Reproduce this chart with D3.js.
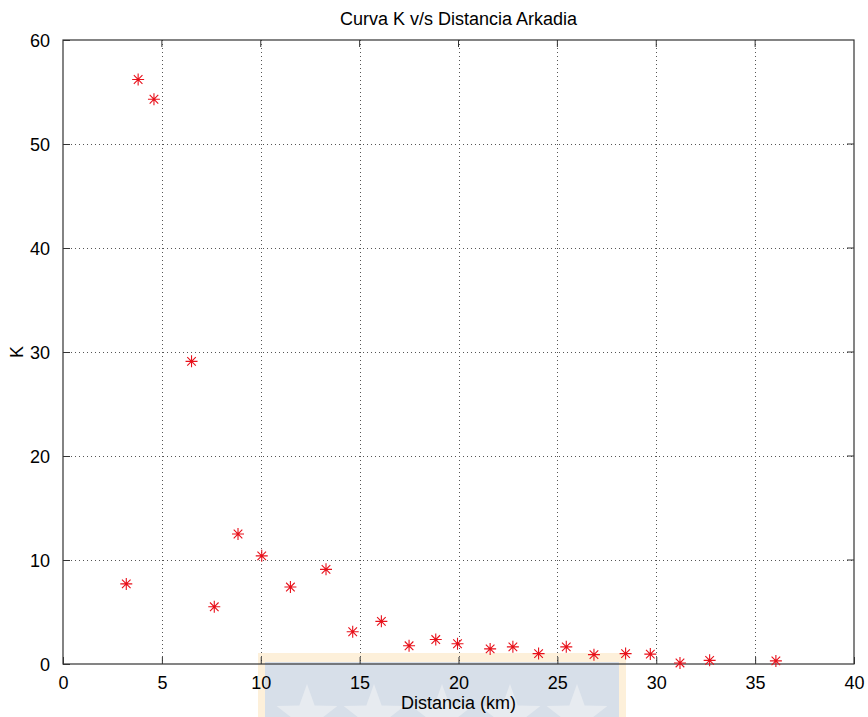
<!DOCTYPE html>
<html>
<head>
<meta charset="utf-8">
<script src="https://cdn.jsdelivr.net/npm/d3@7"></script>
<style>
  body { margin: 0; background: #fff; }
  svg { display: block; font-family: "Liberation Sans", Arial, sans-serif; }
</style>
</head>
<body>
<svg id="chart" width="868" height="717"></svg>
<script>
// Distance (km) and K values
const distancia = [3.2, 3.8, 4.6, 6.5, 7.65, 8.85, 10.05, 11.5, 13.3, 14.65, 16.1, 17.5, 18.85, 19.95,
                   21.6, 22.75, 24.05, 25.45, 26.85, 28.45, 29.7, 31.2, 32.7, 36.05];
const kValues  = [7.7, 56.2, 54.3, 29.1, 5.5, 12.5, 10.4, 7.4, 9.1, 3.1, 4.1, 1.75, 2.35, 1.95,
                   1.45, 1.65, 1.0, 1.65, 0.9, 1.0, 0.95, 0.1, 0.35, 0.3];
const xTicks = [0, 5, 10, 15, 20, 25, 30, 35, 40];
const yTicks = [0, 10, 20, 30, 40, 50, 60];

const svg = d3.select("#chart");
const margin = { left: 63, right: 14, top: 40, bottom: 53 };
const W = 868, H = 717;
const x = d3.scaleLinear().domain([0, 40]).range([margin.left, W - margin.right]);
const y = d3.scaleLinear().domain([0, 60]).range([H - margin.bottom, margin.top]);

// faint institutional seal along the bottom edge
const seal = svg.append("g");
seal.append("rect").attr("x", 258).attr("y", 653).attr("width", 368).attr("height", 70)
  .attr("fill", "#fdf0da");
seal.append("rect").attr("x", 265).attr("y", 662).attr("width", 354).attr("height", 60)
  .attr("fill", "#d7dfe9");
const starPath = d3.lineRadial().curve(d3.curveLinearClosed)
  .angle(d => d[0]).radius(d => d[1]);
const starPts = d3.range(10).map(i => [i * Math.PI / 5, i % 2 ? 13 : 32]);
[307, 374, 442, 510, 577].forEach(cx => {
  seal.append("path").attr("d", starPath(starPts))
    .attr("transform", `translate(${cx},${716})`)
    .attr("fill", "#e7ebf0");
});

// grid
const grid = svg.append("g").attr("stroke", "#555").attr("stroke-width", 1)
  .attr("stroke-dasharray", "1,3");
grid.selectAll(".gx").data(xTicks.slice(1, -1)).join("line")
  .attr("x1", d => Math.round(x(d)) + 0.5).attr("x2", d => Math.round(x(d)) + 0.5)
  .attr("y1", y(60)).attr("y2", y(0));
grid.selectAll(".gy").data(yTicks.slice(1, -1)).join("line")
  .attr("y1", d => Math.round(y(d)) + 0.5).attr("y2", d => Math.round(y(d)) + 0.5)
  .attr("x1", x(0)).attr("x2", x(40));

// axes with inward ticks
const xAxis = d3.axisBottom(x).tickValues(xTicks).tickSizeInner(-7).tickSizeOuter(0).tickPadding(12);
const yAxis = d3.axisLeft(y).tickValues(yTicks).tickSizeInner(-7).tickSizeOuter(0).tickPadding(13);
const gx = svg.append("g").attr("transform", `translate(0,${y(0)})`).call(xAxis);
const gy = svg.append("g").attr("transform", `translate(${x(0)},0)`).call(yAxis);
[gx, gy].forEach(g => {
  g.select(".domain").remove();
  g.selectAll("line").attr("stroke", "#333");
  g.selectAll("text").attr("font-size", 18).attr("fill", "#000")
    .attr("font-family", "'Liberation Sans', Arial, sans-serif");
});
gy.selectAll("text").attr("dy", "0.35em");

// ticks on top and right edges
svg.append("g").selectAll("line").data(xTicks.slice(1, -1)).join("line")
  .attr("x1", d => x(d)).attr("x2", d => x(d)).attr("y1", y(60)).attr("y2", y(60) + 7)
  .attr("stroke", "#333");
svg.append("g").selectAll("line").data(yTicks.slice(1, -1)).join("line")
  .attr("y1", d => y(d)).attr("y2", d => y(d)).attr("x1", x(40)).attr("x2", x(40) - 7)
  .attr("stroke", "#333");

// box
svg.append("rect").attr("x", x(0)).attr("y", y(60))
  .attr("width", x(40) - x(0)).attr("height", y(0) - y(60))
  .attr("fill", "none").attr("stroke", "#333").attr("stroke-width", 1.2);

// asterisk markers
const r = 6, rd = 4.3;
const marks = svg.append("g").attr("stroke", "#e8101a").attr("stroke-width", 1.1);
distancia.forEach((d, i) => {
  const cx = x(d), cy = y(kValues[i]);
  const p = `M${cx - r},${cy}H${cx + r}M${cx},${cy - r}V${cy + r}` +
            `M${cx - rd},${cy - rd}L${cx + rd},${cy + rd}M${cx - rd},${cy + rd}L${cx + rd},${cy - rd}`;
  marks.append("path").attr("d", p);
});

// labels
svg.append("text").attr("x", (x(0) + x(40)) / 2).attr("y", 25)
  .attr("text-anchor", "middle").attr("font-size", 18).text("Curva K v/s Distancia Arkadia");
svg.append("text").attr("x", (x(0) + x(40)) / 2).attr("y", 709)
  .attr("text-anchor", "middle").attr("font-size", 18).text("Distancia (km)");
svg.append("text").attr("transform", `translate(23,${(y(0) + y(60)) / 2}) rotate(-90)`)
  .attr("text-anchor", "middle").attr("font-size", 18).text("K");
</script>
</body>
</html>
